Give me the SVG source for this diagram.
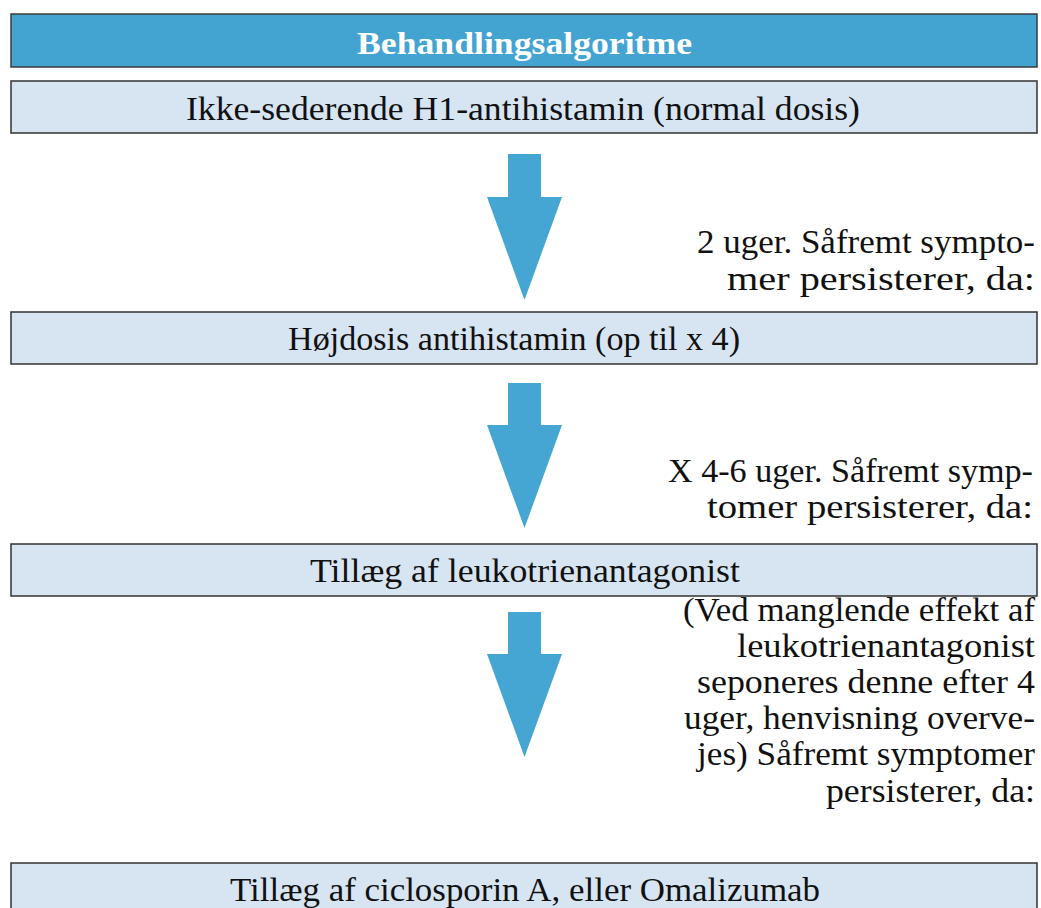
<svg xmlns="http://www.w3.org/2000/svg" width="1041" height="908" viewBox="0 0 1041 908">
<style>
.hdr{fill:#43A4D2;stroke:#3a3a3a;stroke-width:1.5}
.box{fill:#D7E5F3;stroke:#333;stroke-width:1.5}
.arr{fill:#45A6D3}
text{font-family:"Liberation Serif","Times New Roman",serif;font-size:33px;fill:#111}
.ht{font-weight:bold;fill:#fff;font-size:31px}
</style>
<rect width="1041" height="908" fill="#fff"/>
<g id="header">
<rect class="hdr" x="11" y="14" width="1026" height="53"/>
<text class="ht" x="357" y="54" textLength="335" lengthAdjust="spacingAndGlyphs">Behandlingsalgoritme</text>
</g>
<g id="node1">
<rect class="box" x="11" y="81" width="1026" height="52"/>
<text x="186" y="120" textLength="674" lengthAdjust="spacingAndGlyphs">Ikke-sederende H1-antihistamin (normal dosis)</text>
</g>
<g id="node2">
<rect class="box" x="11" y="312" width="1026" height="52"/>
<text x="288" y="350" textLength="452" lengthAdjust="spacingAndGlyphs">Højdosis antihistamin (op til x 4)</text>
</g>
<g id="node3">
<rect class="box" x="11" y="544" width="1026" height="52"/>
<text x="310" y="582" textLength="430" lengthAdjust="spacingAndGlyphs">Tillæg af leukotrienantagonist</text>
</g>
<g id="node4">
<rect class="box" x="11" y="863" width="1026" height="60"/>
<text x="230" y="901" textLength="590" lengthAdjust="spacingAndGlyphs">Tillæg af ciclosporin A, eller Omalizumab</text>
</g>
<g id="connectors">
<polygon class="arr" points="508,154 541,154 541,197 562,197 524.5,300 487,197 508,197"/>
<polygon class="arr" points="508,383 541,383 541,425 562,425 524.5,528 487,425 508,425"/>
<polygon class="arr" points="508,612 541,612 541,654 562,654 524.5,757 487,654 508,654"/>
</g>
<g id="labels">
<text x="697" y="253" textLength="338" lengthAdjust="spacingAndGlyphs">2 uger. Såfremt sympto-</text>
<text x="727" y="290" textLength="308" lengthAdjust="spacingAndGlyphs">mer persisterer, da:</text>
<text x="668" y="482" textLength="365" lengthAdjust="spacingAndGlyphs">X 4-6 uger. Såfremt symp-</text>
<text x="707" y="518" textLength="326" lengthAdjust="spacingAndGlyphs">tomer persisterer, da:</text>
<text x="683" y="621" textLength="352" lengthAdjust="spacingAndGlyphs">(Ved manglende effekt af</text>
<text x="737" y="657" textLength="298" lengthAdjust="spacingAndGlyphs">leukotrienantagonist</text>
<text x="697" y="693" textLength="338" lengthAdjust="spacingAndGlyphs">seponeres denne efter 4</text>
<text x="684" y="729" textLength="351" lengthAdjust="spacingAndGlyphs">uger, henvisning overve-</text>
<text x="697" y="765" textLength="338" lengthAdjust="spacingAndGlyphs">jes) Såfremt symptomer</text>
<text x="826" y="802" textLength="209" lengthAdjust="spacingAndGlyphs">persisterer, da:</text>
</g>
</svg>
